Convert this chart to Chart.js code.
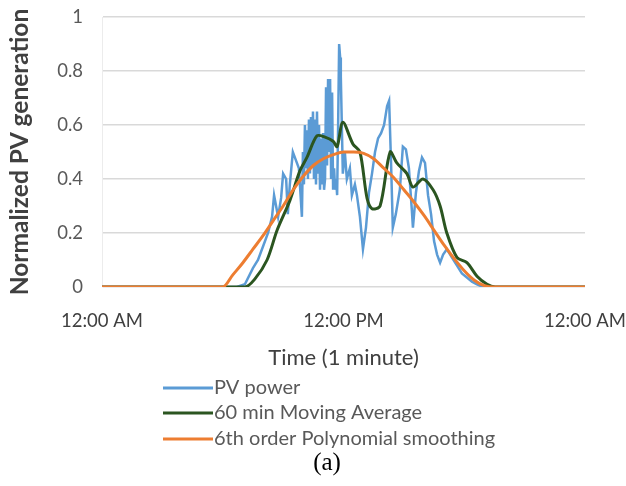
<!DOCTYPE html>
<html>
<head>
<meta charset="utf-8">
<script src="https://cdn.jsdelivr.net/npm/chart.js@4.4.1/dist/chart.umd.min.js"></script>
<style>
  html, body { margin: 0; padding: 0; background: #ffffff; }
  #wrap { width: 626px; height: 486px; position: relative; }
</style>
</head>
<body>
<div id="wrap"><canvas id="pv" width="626" height="486"></canvas></div>
<script>
// Time axis (minutes after midnight) and its labels
const tickMinutes = [0, 720, 1440];
const tickLabels = ['12:00 AM', '12:00 PM', '12:00 AM'];

const seriesNames = ['PV power', '60 min Moving Average', '6th order Polynomial smoothing'];
const seriesColors = ['#5B9BD5', '#2B5520', '#ED7D31'];

// Measured PV power (normalized)
const pvMinutes = [0, 402, 426, 450, 465, 480, 495, 507, 513, 519,
  525, 534, 540, 549, 554, 560, 569, 578, 587, 596,
  599, 602, 605, 608, 611, 614, 617, 620, 623, 626,
  629, 632, 635, 638, 641, 644, 647, 650, 653, 656,
  659, 662, 665, 668, 671, 674, 677, 680, 683, 686,
  689, 692, 695, 698, 701, 704, 707, 710, 712, 715,
  718, 724, 730, 739, 745, 754, 760, 769, 778, 787,
  796, 805, 814, 823, 832, 841, 850, 856, 862, 867,
  876, 888, 897, 906, 915, 924, 927, 936, 945, 954,
  963, 972, 981, 990, 999, 1008, 1017, 1028, 1043, 1058,
  1073, 1088, 1103, 1118, 1136, 1440];
const pvValues = [0, 0, 0.01, 0.07, 0.10, 0.15, 0.20, 0.26, 0.34, 0.30,
  0.26, 0.33, 0.42, 0.40, 0.27, 0.38, 0.50, 0.47, 0.44, 0.26,
  0.50, 0.38, 0.60, 0.44, 0.58, 0.40, 0.62, 0.42, 0.63, 0.45,
  0.65, 0.40, 0.62, 0.38, 0.65, 0.42, 0.60, 0.36, 0.55, 0.38,
  0.57, 0.36, 0.40, 0.74, 0.45, 0.77, 0.50, 0.77, 0.40, 0.72,
  0.36, 0.44, 0.36, 0.40, 0.34, 0.60, 0.90, 0.85, 0.78, 0.60,
  0.42, 0.50, 0.40, 0.44, 0.34, 0.38, 0.34, 0.26, 0.14, 0.22,
  0.35, 0.42, 0.50, 0.55, 0.57, 0.60, 0.67, 0.69, 0.45, 0.22,
  0.27, 0.36, 0.52, 0.51, 0.44, 0.28, 0.22, 0.35, 0.43, 0.48,
  0.46, 0.34, 0.27, 0.17, 0.12, 0.09, 0.12, 0.14, 0.11, 0.08,
  0.05, 0.035, 0.02, 0.01, 0, 0];

// 60 min moving average
const avgMinutes = [0, 426, 456, 492, 522, 560, 590, 611, 641, 665, 689,
  701, 718, 748, 769, 790, 805, 829, 859, 879, 909,
  927, 957, 987, 1008, 1028, 1058, 1088, 1118, 1148, 1172, 1440];
const avgValues = [0, 0, 0.03, 0.10, 0.21, 0.32, 0.43, 0.48, 0.56, 0.555, 0.54,
  0.52, 0.61, 0.53, 0.50, 0.33, 0.29, 0.30, 0.50, 0.46, 0.42,
  0.37, 0.40, 0.36, 0.30, 0.20, 0.11, 0.09, 0.04, 0.01, 0, 0];

// 6th order polynomial fit
const polyMinutes = [0, 360, 390, 420, 450, 480, 510, 540, 570, 600, 630,
  660, 690, 720, 750, 780, 810, 840, 870, 900, 930,
  960, 990, 1020, 1050, 1080, 1110, 1140, 1170, 1440];
const polyValues = [0, 0, 0.045, 0.09, 0.14, 0.19, 0.245, 0.30, 0.36, 0.41, 0.45,
  0.475, 0.49, 0.50, 0.50, 0.495, 0.475, 0.44, 0.405, 0.36, 0.315,
  0.265, 0.21, 0.155, 0.105, 0.06, 0.025, 0.005, 0, 0];

const toPoints = (xs, ys) => xs.map((x, i) => ({ x: x, y: ys[i] }));

const uiFont = 'Lato, "Open Sans", "DejaVu Sans", sans-serif';

// Vertical legend under the axis title, plus the panel caption
const legendBlock = {
  id: 'legendBlock',
  afterDraw(chart) {
    const ctx = chart.ctx;
    const rowY = [388, 413, 439];
    ctx.save();
    ctx.textBaseline = 'middle';
    ctx.textAlign = 'left';
    ctx.font = '20px ' + uiFont;
    seriesNames.forEach((name, i) => {
      ctx.strokeStyle = seriesColors[i];
      ctx.lineWidth = 3;
      ctx.beginPath();
      ctx.moveTo(163, rowY[i]);
      ctx.lineTo(213, rowY[i]);
      ctx.stroke();
      ctx.fillStyle = '#595959';
      ctx.fillText(name, 214, rowY[i]);
    });
    ctx.fillStyle = '#000000';
    ctx.textAlign = 'center';
    ctx.font = '25px "Liberation Serif", "Times New Roman", serif';
    ctx.fillText('(a)', 327, 463);
    ctx.restore();
  }
};

new Chart(document.getElementById('pv'), {
  type: 'line',
  data: {
    datasets: [
      { label: seriesNames[0], data: toPoints(pvMinutes, pvValues), borderColor: seriesColors[0],
        borderWidth: 2.5, pointRadius: 0, tension: 0, order: 2 },
      { label: seriesNames[1], data: toPoints(avgMinutes, avgValues), borderColor: seriesColors[1],
        borderWidth: 3, pointRadius: 0, tension: 0.3, order: 1 },
      { label: seriesNames[2], data: toPoints(polyMinutes, polyValues), borderColor: seriesColors[2],
        borderWidth: 3, pointRadius: 0, cubicInterpolationMode: 'monotone', order: 0 }
    ]
  },
  options: {
    responsive: false,
    animation: false,
    devicePixelRatio: 1,
    layout: { padding: { left: 0, right: 41, top: 17, bottom: 0 } },
    plugins: { legend: { display: false }, tooltip: { enabled: false } },
    scales: {
      x: {
        type: 'linear',
        min: 0,
        max: 1440,
        afterBuildTicks: (scale) => { scale.ticks = tickMinutes.map(v => ({ value: v })); },
        afterFit: (scale) => { scale.height = 199; },
        // invisible tick marks keep the labels clear of the axis
        grid: { display: true, drawOnChartArea: false, drawTicks: true, tickLength: 23, tickColor: 'rgba(0,0,0,0)' },
        border: { display: false },
        ticks: {
          autoSkip: false,
          maxRotation: 0,
          padding: 0,
          color: '#404040',
          font: { family: uiFont, size: 18.5 },
          callback: (v) => tickLabels[tickMinutes.indexOf(v)]
        },
        title: {
          display: true,
          text: 'Time (1 minute)',
          color: '#404040',
          font: { family: uiFont, size: 22 },
          padding: { top: 4, bottom: 115 }
        }
      },
      y: {
        min: 0,
        max: 1,
        afterFit: (scale) => { scale.width = 102; },
        grid: { color: '#D9D9D9', lineWidth: 1.5, drawTicks: true, tickLength: 19, tickColor: 'rgba(0,0,0,0)' },
        border: { display: true, color: '#ECECEC', width: 1 },
        ticks: {
          stepSize: 0.2,
          padding: 0,
          color: '#595959',
          font: { family: uiFont, size: 18.5 },
          callback: (v) => String(Math.round(v * 10) / 10)
        },
        title: {
          display: true,
          text: 'Normalized PV generation',
          color: '#404040',
          font: { family: uiFont, size: 24.5, weight: 'bold' },
          padding: { top: 5, bottom: 0 }
        }
      }
    }
  },
  plugins: [legendBlock]
});
</script>
</body>
</html>
